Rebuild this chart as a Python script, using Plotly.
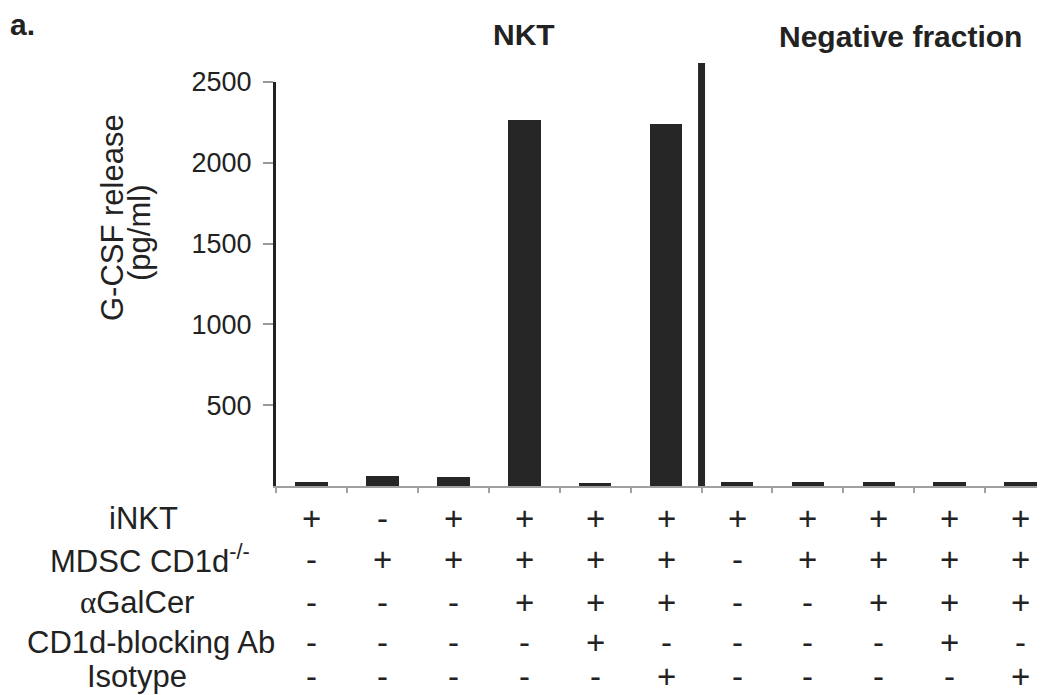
import plotly.graph_objects as go

# ---- data ----
conditions = ["c1", "c2", "c3", "c4", "c5", "c6", "c7", "c8", "c9", "c10", "c11"]
gcsf_release = [22, 62, 54, 2265, 17, 2242, 24, 22, 24, 22, 24]
ytick_values = [500, 1000, 1500, 2000, 2500]
ytick_labels = ["500", "1000", "1500", "2000", "2500"]
row_labels = ["iNKT", "MDSC CD1d<sup>-/-</sup>",
              "<span style='font-family:Liberation Serif'>α</span>GalCer",
              "CD1d-blocking Ab", "Isotype"]
row_inkt = ["+", "-", "+", "+", "+", "+", "+", "+", "+", "+", "+"]
row_mdsc = ["-", "+", "+", "+", "+", "+", "-", "+", "+", "+", "+"]
row_agalcer = ["-", "-", "-", "+", "+", "+", "-", "-", "+", "+", "+"]
row_block = ["-", "-", "-", "-", "+", "-", "-", "-", "-", "+", "-"]
row_isotype = ["-", "-", "-", "-", "-", "+", "-", "-", "-", "-", "+"]
group_titles = ["NKT", "Negative fraction"]
panel_label = "a."

# ---- layout geometry (pixels) ----
W, H = 1049, 695
PL, PR, PT, PB = 276, 1037, 82, 486
FONT = "Liberation Sans, Arial, sans-serif"
TXT = "#222222"

def px_x(px):
    return (px - PL) / (PR - PL)

def px_y(py):
    return (PB - py) / (PB - PT)

xs = list(range(len(conditions)))

fig = go.Figure()
fig.add_trace(go.Bar(x=xs, y=gcsf_release, width=0.46,
                     marker=dict(color="#262626", line=dict(width=0)),
                     showlegend=False))

annotations = []
# sign table
rows = [row_inkt, row_mdsc, row_agalcer, row_block, row_isotype]
row_y = [518, 559, 602, 642, 676]
label_x = [143, 150, 137, 151, 137]
for lab, lx, ry, signs in zip(row_labels, label_x, row_y, rows):
    annotations.append(dict(text=lab, xref="paper", yref="paper",
                            x=px_x(lx), y=px_y(ry), xanchor="center", yanchor="middle",
                            showarrow=False, font=dict(family=FONT, size=31, color=TXT)))
    for i, s in enumerate(signs):
        annotations.append(dict(text=s, xref="x", yref="paper",
                                x=i, y=px_y(ry), xanchor="center", yanchor="middle",
                                showarrow=False, font=dict(family=FONT, size=33, color=TXT)))

# group titles
annotations.append(dict(text="<b>%s</b>" % group_titles[0], xref="x", yref="paper",
                        x=3, y=px_y(35), xanchor="center", yanchor="middle",
                        showarrow=False, font=dict(family=FONT, size=30, color=TXT)))
annotations.append(dict(text="<b>%s</b>" % group_titles[1], xref="paper", yref="paper",
                        x=px_x(900), y=px_y(37), xanchor="center", yanchor="middle",
                        showarrow=False, font=dict(family=FONT, size=30, color=TXT)))
annotations.append(dict(text="<b>%s</b>" % panel_label, xref="paper", yref="paper",
                        x=px_x(22), y=px_y(24), xanchor="center", yanchor="middle",
                        showarrow=False, font=dict(family=FONT, size=30, color=TXT)))
# y axis title (two lines placed separately)
annotations.append(dict(text="G-CSF release", xref="paper", yref="paper",
                        x=px_x(112), y=px_y(218), xanchor="center", yanchor="middle",
                        textangle=-90, showarrow=False,
                        font=dict(family=FONT, size=31, color=TXT)))
annotations.append(dict(text="(pg/ml)", xref="paper", yref="paper",
                        x=px_x(139), y=px_y(233), xanchor="center", yanchor="middle",
                        textangle=-90, showarrow=False,
                        font=dict(family=FONT, size=31, color=TXT)))

# separator between groups
fig.add_shape(type="line", xref="x", yref="paper", x0=5.5, x1=5.5,
              y0=0, y1=px_y(63), line=dict(color="#262626", width=7))

fig.update_layout(
    width=W, height=H,
    margin=dict(l=PL, r=W - PR, t=PT, b=H - PB, pad=0),
    paper_bgcolor="white", plot_bgcolor="white",
    annotations=annotations,
    bargap=0,
    xaxis=dict(range=[-0.5, 10.23], showgrid=False, zeroline=False,
               showline=True, linecolor="#a0a0a0", linewidth=2,
               tickmode="array", tickvals=[i - 0.5 for i in range(11)],
               showticklabels=False, ticks="outside", ticklen=5,
               tickcolor="#a0a0a0", tickwidth=1.5),
    yaxis=dict(range=[0, 2500], showgrid=False, zeroline=False,
               showline=True, linecolor="#222222", linewidth=3,
               tickmode="array", tickvals=ytick_values, ticktext=ytick_labels,
               ticks="outside", ticklen=10, tickcolor="#999999", tickwidth=1.5,
               ticklabelstandoff=6,
               tickfont=dict(family=FONT, size=27, color=TXT)),
)

fig.write_html("out.html")
